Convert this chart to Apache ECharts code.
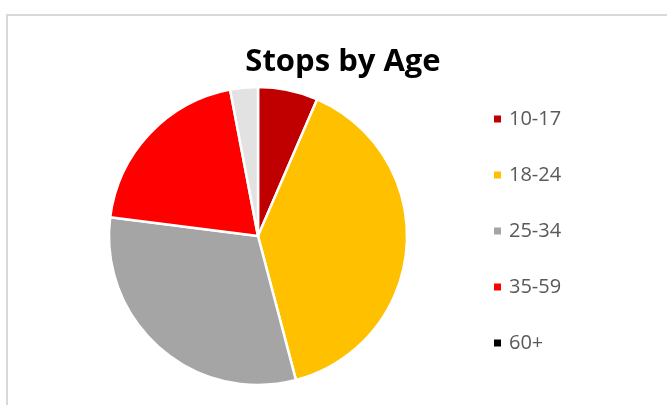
<!DOCTYPE html>
<html>
<head>
<meta charset="utf-8">
<script src="https://cdn.jsdelivr.net/npm/echarts@6/dist/echarts.min.js"></script>
<style>
  html, body { margin: 0; padding: 0; background: #fff; }
  #chart { width: 667px; height: 405px; }
</style>
</head>
<body>
<div id="chart"></div>
<script>
// age groups and their share of stops (%)
const ageGroups = ['10-17', '18-24', '25-34', '35-59', '60+']
const stopShares = [6.5, 39.4, 31.1, 20.0, 3.0]
const sliceColors = ['#C00000', '#FFC000', '#A5A5A5', '#FF0000', '#E2E2E2']
const legendColors = ['#C00000', '#FFC000', '#A5A5A5', '#FF0000', '#000000']

const chart = echarts.init(document.getElementById('chart'))

const options = {
  animation: false,
  title: {
    text: 'Stops by Age',
    left: 338,
    top: 42,
    textAlign: 'center',
    textStyle: {
      fontFamily: 'Open Sans',
      fontWeight: 'bold',
      fontSize: 31,
      color: '#000'
    }
  },
  legend: {
    orient: 'vertical',
    left: 487,
    top: 104,
    itemWidth: 9,
    itemHeight: 9,
    itemGap: 36,
    icon: 'rect',
    textStyle: {
      fontFamily: 'Open Sans',
      fontSize: 20,
      color: '#595959',
      padding: [0, 0, 0, 2]
    },
    data: ageGroups.map((g, i) => ({ name: g, itemStyle: { color: legendColors[i] } }))
  },
  graphic: [
    {
      type: 'polyline',
      shape: { points: [[7, 405], [7, 15], [667, 15]] },
      style: { stroke: '#D9D9D9', lineWidth: 2, fill: null }
    }
  ],
  series: [
    {
      type: 'pie',
      center: [258, 236],
      radius: 149,
      startAngle: 90,
      clockwise: true,
      label: { show: false },
      labelLine: { show: false },
      itemStyle: { borderColor: '#fff', borderWidth: 2.5 },
      emphasis: { disabled: true },
      data: ageGroups.map((g, i) => ({
        name: g,
        value: stopShares[i],
        itemStyle: { color: sliceColors[i] }
      }))
    }
  ]
}

chart.setOption(options)
</script>
</body>
</html>
